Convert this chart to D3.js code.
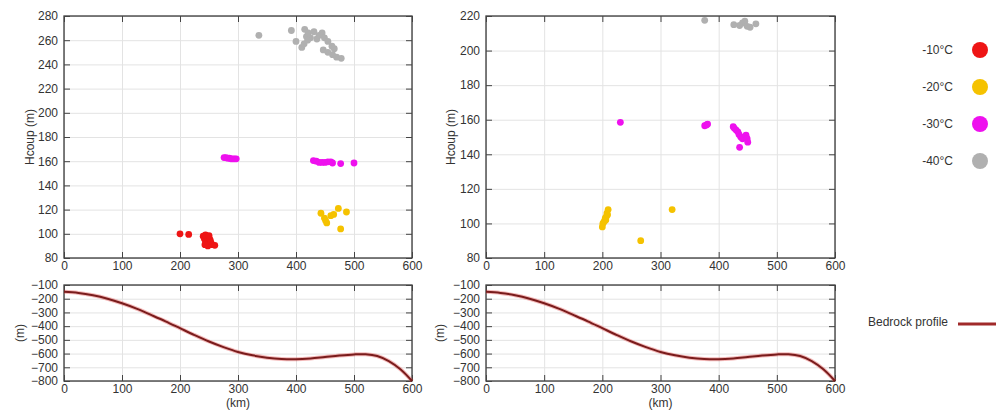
<!DOCTYPE html>
<html>
<head>
<meta charset="utf-8">
<script src="https://cdn.jsdelivr.net/npm/d3@7/dist/d3.min.js"></script>
<style>
  html, body { margin: 0; padding: 0; background: #fff; }
  svg { display: block; font-family: "Liberation Sans", Arial, sans-serif; }
  .grid line { stroke: #e3e3e3; stroke-width: 1; }
  .grid path { display: none; }
  .ax path { display: none; }
  .ax line { stroke: #444; stroke-width: 1; }
  .ax text { fill: #333; font-size: 12px; }
</style>
</head>
<body>
<svg id="chart" width="996" height="412"></svg>
<script>
// Temperature classes shown in the legend
const tempLabels = ["-10°C", "-20°C", "-30°C", "-40°C"];
const tempColors = ["#ee1515", "#f5c200", "#ee11ee", "#b0b0b0"];

// Shared distance axis (km)
const kmTicks = [0, 100, 200, 300, 400, 500, 600];

// Left scatter: Hcoup (m) against distance (km), one list per temperature
const leftYTicks = [80, 100, 120, 140, 160, 180, 200, 220, 240, 260, 280];
const leftM10 = [[200, 100], [215, 99.5], [240, 98], [242, 96], [244, 94], [246, 92], [248, 90],
  [250, 97], [252, 95], [247, 97], [253, 93], [256, 91], [260, 90.5], [244, 99], [250, 98.5], [243, 91]];
const leftM20 = [[443, 117], [449, 113], [451, 111], [453, 109], [460, 115], [465, 116],
  [473, 121], [477, 104], [487, 118]];
const leftM30 = [[276, 163], [279, 163], [282, 162.5], [285, 162.5], [288, 162], [291, 162],
  [294, 162], [297, 162], [430, 160.5], [435, 160], [440, 159], [445, 159], [450, 159],
  [455, 159.5], [460, 159.5], [463, 158.5], [477, 158], [500, 158.5]];
const leftM40 = [[336, 264], [392, 268], [400, 259], [415, 269], [418, 263], [421, 266],
  [425, 262], [431, 267], [436, 261], [440, 264], [445, 266], [449, 262], [455, 259],
  [462, 255], [466, 253], [410, 254], [414, 257], [420, 260], [447, 252], [455, 250],
  [463, 248], [470, 246], [478, 245]];

// Right scatter
const rightYTicks = [80, 100, 120, 140, 160, 180, 200, 220];
const rightM10 = [];
const rightM20 = [[200, 98], [201, 100], [203, 101], [205, 103], [207, 104], [208, 106],
  [210, 108], [206, 102], [209, 105], [266, 90], [320, 108]];
const rightM30 = [[231, 158.5], [376, 156.5], [379, 157], [381, 157.5], [425, 156], [427, 155],
  [430, 154], [433, 153], [435, 151.5], [438, 150], [441, 149], [447, 151], [449, 149],
  [450, 147], [436, 144]];
const rightM40 = [[376, 217.5], [426, 215], [436, 214.5], [441, 216], [445, 217], [449, 214],
  [454, 213.5], [464, 215.5]];

// Bedrock elevation (m) along the profile (km)
const bedrockKm = [0, 25, 50, 75, 100, 125, 150, 175, 200, 225, 250, 275, 300, 325, 350, 375,
  400, 425, 450, 475, 500, 520, 540, 560, 580, 600];
const bedrockElev = [-150, -158, -175, -200, -233, -272, -318, -365, -415, -465, -512, -553,
  -588, -613, -630, -640, -642, -636, -625, -614, -606, -605, -618, -655, -715, -800];
const bedrockTicks = [-800, -700, -600, -500, -400, -300, -200, -100];

const svg = d3.select("#chart");
const tickLen = 6;

function framePanel(g, x, y, w, h, xT, yT) {
  // grid
  g.append("g").attr("class", "grid").attr("transform", `translate(0,${h})`)
    .call(d3.axisBottom(x).tickValues(xT).tickSize(-h).tickFormat(""));
  g.append("g").attr("class", "grid")
    .call(d3.axisLeft(y).tickValues(yT).tickSize(-w).tickFormat(""));
  // frame
  g.append("rect").attr("width", w).attr("height", h)
    .attr("fill", "none").attr("stroke", "#3a3a3a").attr("stroke-width", 1.3);
  // inward ticks on all four sides, labels on left and bottom
  g.append("g").attr("class", "ax").attr("transform", `translate(0,${h})`)
    .call(d3.axisBottom(x).tickValues(xT).tickSize(-tickLen).tickPadding(3));
  g.append("g").attr("class", "ax")
    .call(d3.axisTop(x).tickValues(xT).tickSize(-tickLen).tickFormat(""));
  g.append("g").attr("class", "ax yl")
    .call(d3.axisLeft(y).tickValues(yT).tickSize(-tickLen));
  g.select(".yl").selectAll("text").attr("x", -6);
  g.append("g").attr("class", "ax").attr("transform", `translate(${w},0)`)
    .call(d3.axisRight(y).tickValues(yT).tickSize(-tickLen).tickFormat(""));
}

function scatterPanel(left, top, w, h, yDomain, yT, groups, ylx) {
  const g = svg.append("g").attr("transform", `translate(${left},${top})`);
  const x = d3.scaleLinear().domain([0, 600]).range([0, w]);
  const y = d3.scaleLinear().domain(yDomain).range([h, 0]);
  framePanel(g, x, y, w, h, kmTicks, yT);
  groups.forEach((pts, i) => {
    g.append("g").selectAll("circle").data(pts).join("circle")
      .attr("cx", d => x(d[0])).attr("cy", d => y(d[1])).attr("r", 3.4)
      .attr("fill", tempColors[i]);
  });
  svg.append("text").attr("transform", `translate(${ylx},${top + h / 2}) rotate(-90)`)
    .attr("text-anchor", "middle").attr("font-size", 12).attr("fill", "#333")
    .text("Hcoup (m)");
}

function bedrockPanel(left, top, w, h, ylx) {
  const g = svg.append("g").attr("transform", `translate(${left},${top})`);
  const x = d3.scaleLinear().domain([0, 600]).range([0, w]);
  const y = d3.scaleLinear().domain([-800, -100]).range([h, 0]);
  framePanel(g, x, y, w, h, kmTicks, bedrockTicks);
  const line = d3.line().x((d, i) => x(bedrockKm[i])).y(d => y(d)).curve(d3.curveCatmullRom);
  g.append("path").datum(bedrockElev).attr("d", line)
    .attr("fill", "none").attr("stroke", "#e03a3a").attr("stroke-opacity", 0.35).attr("stroke-width", 4);
  g.append("path").datum(bedrockElev).attr("d", line)
    .attr("fill", "none").attr("stroke", "#7a1c1c").attr("stroke-width", 2);
  svg.append("text").attr("transform", `translate(${ylx},${top + h / 2}) rotate(-90)`)
    .attr("text-anchor", "middle").attr("font-size", 12).attr("fill", "#333").text("(m)");
  svg.append("text").attr("x", left + w / 2).attr("y", top + h + 26)
    .attr("text-anchor", "middle").attr("font-size", 12).attr("fill", "#333").text("(km)");
}

scatterPanel(64, 16, 348, 242, [80, 280], leftYTicks, [leftM10, leftM20, leftM30, leftM40], 34);
scatterPanel(486, 16, 349, 242, [80, 220], rightYTicks, [rightM10, rightM20, rightM30, rightM40], 455);
bedrockPanel(64, 285, 348, 96, 24);
bedrockPanel(486, 285, 349, 96, 444);

// Temperature legend
const legend = svg.append("g");
tempLabels.forEach((t, i) => {
  const cy = 50 + i * 37;
  legend.append("text").attr("x", 953).attr("y", cy + 4).attr("text-anchor", "end")
    .attr("font-size", 12).attr("fill", "#333").text(t);
  legend.append("circle").attr("cx", 980).attr("cy", cy).attr("r", 8).attr("fill", tempColors[i]);
});

// Bedrock legend
svg.append("text").attr("x", 868).attr("y", 326).attr("font-size", 12).attr("fill", "#333")
  .text("Bedrock profile");
svg.append("line").attr("x1", 958).attr("x2", 996).attr("y1", 324).attr("y2", 324)
  .attr("stroke", "#a02a2a").attr("stroke-width", 3);
</script>
</body>
</html>
